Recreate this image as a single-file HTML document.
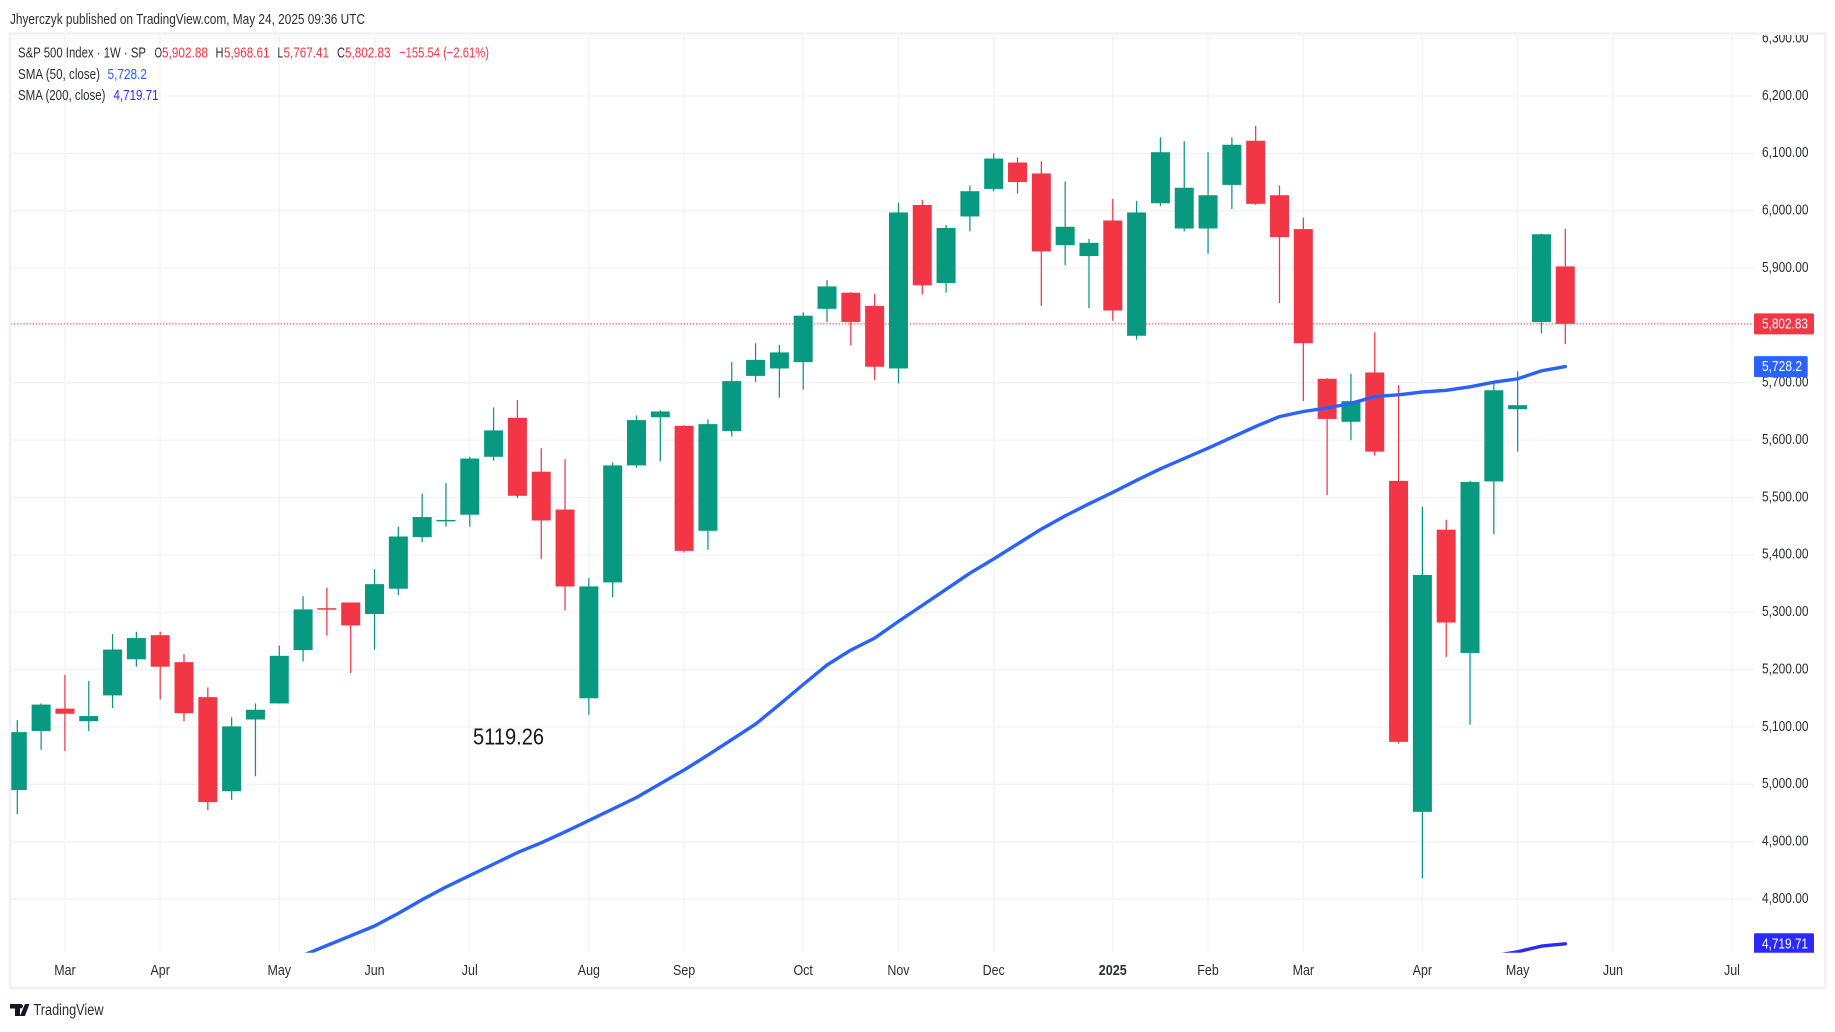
<!DOCTYPE html>
<html lang="en">
<head>
<meta charset="utf-8">
<title>S&amp;P 500 Index weekly chart</title>
<style>
html,body{margin:0;padding:0;background:#fff;width:1835px;height:1032px;overflow:hidden}
svg{display:block;font-family:"Liberation Sans",sans-serif}
</style>
</head>
<body>
<svg id="chart" xmlns="http://www.w3.org/2000/svg" width="1835" height="1032" viewBox="0 0 1835 1032">
  <defs>
    <clipPath id="pane-clip"><rect x="11" y="35" width="1742.5" height="917.7"/></clipPath>
    <clipPath id="axis-clip"><rect x="1754" y="35" width="70" height="917.7"/></clipPath>
  </defs>
  <rect x="0" y="0" width="1835" height="1032" fill="#ffffff"/>
  <text x="10" y="24" font-size="14.5" fill="#2a2e39" textLength="355" lengthAdjust="spacingAndGlyphs">Jhyerczyk published on TradingView.com, May 24, 2025 09:36 UTC</text>
  <g id="grid"></g>
  <g id="series" clip-path="url(#pane-clip)"></g>
  <g id="yaxis" clip-path="url(#axis-clip)"></g>
  <g id="xaxis"></g>
  <g id="tags" clip-path="url(#axis-clip)"></g>
  <rect x="10" y="33.5" width="1815.5" height="954.5" fill="none" stroke="#f1f2f5" stroke-width="2.6"/>

  <g font-size="14.5">
    <text x="18" y="57.5" fill="#2a2e39" textLength="128" lengthAdjust="spacingAndGlyphs">S&amp;P 500 Index · 1W · SP</text>
    <text x="154.5" y="57.5" fill="#2a2e39" textLength="7.5" lengthAdjust="spacingAndGlyphs">O</text>
    <text x="162" y="57.5" fill="#f23645" textLength="46" lengthAdjust="spacingAndGlyphs">5,902.88</text>
    <text x="215.5" y="57.5" fill="#2a2e39" textLength="8" lengthAdjust="spacingAndGlyphs">H</text>
    <text x="224" y="57.5" fill="#f23645" textLength="45.5" lengthAdjust="spacingAndGlyphs">5,968.61</text>
    <text x="277.5" y="57.5" fill="#2a2e39" textLength="5.5" lengthAdjust="spacingAndGlyphs">L</text>
    <text x="283.5" y="57.5" fill="#f23645" textLength="45.5" lengthAdjust="spacingAndGlyphs">5,767.41</text>
    <text x="337" y="57.5" fill="#2a2e39" textLength="8" lengthAdjust="spacingAndGlyphs">C</text>
    <text x="345" y="57.5" fill="#f23645" textLength="45.5" lengthAdjust="spacingAndGlyphs">5,802.83</text>
    <text x="399" y="57.5" fill="#f23645" textLength="90" lengthAdjust="spacingAndGlyphs">−155.54 (−2.61%)</text>
    <text x="18" y="79" fill="#2a2e39" textLength="82" lengthAdjust="spacingAndGlyphs">SMA (50, close)</text>
    <text x="107.5" y="79" fill="#2962ff" textLength="39.5" lengthAdjust="spacingAndGlyphs">5,728.2</text>
    <text x="18" y="100" fill="#2a2e39" textLength="87.5" lengthAdjust="spacingAndGlyphs">SMA (200, close)</text>
    <text x="113.5" y="100" fill="#2a2aff" textLength="45" lengthAdjust="spacingAndGlyphs">4,719.71</text>
  </g>

  <text x="473" y="744.5" font-size="23" fill="#131722" textLength="71" lengthAdjust="spacingAndGlyphs">5119.26</text>

  <g>
    <path fill="#131722" d="M10 1004h10v12h-5v-7.5h-5zM25 1004h4.5l-4.6 12h-5zM23 1006.2a2.2 2.2 0 1 1-4.4 0a2.2 2.2 0 0 1 4.4 0z"/>
    <text x="33.5" y="1015" font-size="15.5" fill="#2a2e39" textLength="70" lengthAdjust="spacingAndGlyphs">TradingView</text>
  </g>
</svg>
<script>
var opens  = [4990,5093,5132,5110,5155,5218,5260,5213,5152,4988,5113,5141,5234,5307,5317,5297,5341,5431,5459,5470,5571,5639,5545,5479,5150,5352,5556,5640,5625,5442,5616,5712,5725,5736,5829,5857,5834,5725,6010,5874,5990,6038,6084,6065,5940,5921,5983,5782,6013,5969,5969,6045,6122,6027,5968,5707,5632,5718,5529,4952,5444,5229,5528,5654,5806,5902.88];
var highs  = [5112,5141,5191,5180,5262,5266,5266,5227,5169,5117,5141,5242,5328,5343,5317,5375,5449,5507,5525,5571,5657,5670,5586,5567,5360,5561,5643,5652,5626,5636,5736,5769,5766,5823,5879,5858,5855,6014,6019,5975,6044,6100,6093,6086,6051,5951,6021,6017,6128,6121,6102,6128,6148,6044,5988,5708,5716,5788,5696,5484,5461,5529,5702,5720,5960,5968.61];
var lows   = [4948,5060,5058,5093,5133,5205,5148,5110,4955,4973,5014,5141,5214,5259,5194,5235,5330,5422,5449,5449,5564,5499,5393,5303,5121,5326,5552,5563,5404,5409,5606,5701,5674,5688,5806,5765,5705,5699,5854,5857,5964,6034,6030,5834,5905,5830,5808,5775,6008,5964,5925,6003,6010,5839,5668,5504,5600,5573,5071,4836,5222,5104,5436,5580,5786,5767.41];
var closes = [5091,5139,5123,5119,5235,5255,5205,5124,4969,5101,5130,5224,5305,5305,5277,5349,5432,5466,5461,5568,5617,5503,5460,5345,5345,5556,5635,5650,5407,5628,5703,5740,5753,5817,5868,5806,5728,5997,5870,5970,6034,6091,6050,5929,5972,5944,5826,5997,6102,6040,6027,6115,6012,5954,5769,5637,5668,5580,5074,5365,5282,5527,5687,5661,5959,5802.83];

var sma50StartBar = 12;
var sma50 = [4702,4719,4736,4753,4775,4799,4821,4841,4861,4881,4898,4917,4937,4957,4977,5001,5025,5051,5078,5105,5139,5174,5208,5234,5255,5284,5312,5340,5368,5393,5419,5445,5468,5489,5509,5530,5550,5568,5586,5605,5624,5641,5650,5656,5664,5676,5679,5684,5687,5693,5701,5707,5721,5728.2];

var sma200StartBar = 61;
var sma200 = [4694,4701,4708,4718,4722];

var priceTicks = [6300,6200,6100,6000,5900,5800,5700,5600,5500,5400,5300,5200,5100,5000,4900,4800];
var priceTickLabels = ["6,300.00","6,200.00","6,100.00","6,000.00","5,900.00","5,800.00","5,700.00","5,600.00","5,500.00","5,400.00","5,300.00","5,200.00","5,100.00","5,000.00","4,900.00","4,800.00"];
var timeTickBars = [2,6,11,15,19,24,28,33,37,41,46,50,54,59,63,67,72];
var timeTickLabels = ["Mar","Apr","May","Jun","Jul","Aug","Sep","Oct","Nov","Dec","2025","Feb","Mar","Apr","May","Jun","Jul"];

var lastPriceLabel = "5,802.83";
var sma50Label = "5,728.2";
var sma200Label = "4,719.71";

var NS = "http://www.w3.org/2000/svg";
var GREEN = "#089981", RED = "#f23645", BLUE = "#2962ff", INDIGO = "#2a2aff";
var PANE_L = 11, PANE_R = 1753.5, PANE_T = 35, PANE_B = 952.7;

function xOf(bar){ return 17.3 + 23.815 * bar; }
function yOf(price){ return 96 + (6200 - price) * 0.5736; }
function el(tag, parent){
  var n = document.createElementNS(NS, tag);
  parent.appendChild(n);
  return n;
}
function setAll(n, attrs){
  for (var k in attrs) n.setAttribute(k, attrs[k]);
}

var grid = document.getElementById("grid");
var series = document.getElementById("series");
var yaxis = document.getElementById("yaxis");
var xaxis = document.getElementById("xaxis");
var tags = document.getElementById("tags");

priceTicks.forEach(function(p, i){
  var y = yOf(p);
  var line = el("line", grid);
  
  
  setAll(line, {x1:PANE_L, x2:PANE_R, y1:y, y2:y, stroke:"#f2f3f6", "stroke-width":1.3});
  var t = el("text", yaxis);
  
  
  setAll(t, {x:1762, y:y+3.8, "font-size":14.5, fill:"#2a2e39", textLength:46.5, lengthAdjust:"spacingAndGlyphs"});
  t.textContent = priceTickLabels[i];
});

timeTickBars.forEach(function(b, i){
  var x = xOf(b);
  var line = el("line", grid);
  
  
  setAll(line, {x1:x, x2:x, y1:PANE_T, y2:PANE_B, stroke:"#f2f3f6", "stroke-width":1.3});
  var t = el("text", xaxis);
  
  
  var label = timeTickLabels[i];
  var isYear = label.length === 4;
  setAll(t, {x:x, y:975, "text-anchor":"middle", "font-size":14.5, fill:"#2a2e39", "font-weight":isYear ? "bold" : "normal"});
  t.textContent = label;
  if (isYear) {
    t.setAttribute("textLength", 28);
    t.setAttribute("lengthAdjust", "spacingAndGlyphs");
  } else {
    t.setAttribute("transform", "translate(" + x + " 0) scale(0.86 1) translate(" + (-x) + " 0)");
  }
});

var priceLine = el("line", series);


setAll(priceLine, {x1:PANE_L, x2:PANE_R, y1:yOf(closes[closes.length-1]), y2:yOf(closes[closes.length-1]), stroke:RED, "stroke-width":1.2, "stroke-dasharray":"1.3 1.8", opacity:0.9});

closes.forEach(function(c, i){
  var o = opens[i], x = xOf(i), up = c >= o;
  var color = up ? GREEN : RED;
  var top = yOf(Math.max(o, c)), bot = yOf(Math.min(o, c));
  var g = el("g", series);
  
  
  var wick = el("line", g);
  
  
  setAll(wick, {x1:x, x2:x, y1:yOf(highs[i]), y2:yOf(lows[i]), stroke:color, "stroke-width":1.25});
  var body = el("rect", g);
  
  
  setAll(body, {x:x-9.5, y:top, width:19, height:Math.max(bot-top, 1.5), fill:color});
});

function drawLine(values, startBar, color){
  var pts = values.map(function(v, i){ return xOf(startBar + i).toFixed(1) + "," + yOf(v).toFixed(1); }).join(" ");
  var pl = el("polyline", series);
  setAll(pl, {points:pts, fill:"none", stroke:color, "stroke-width":3.4, "stroke-linejoin":"round", "stroke-linecap":"round"});
  return pl;
}
var sma50Line = drawLine(sma50, sma50StartBar, BLUE);


var sma200Line = drawLine(sma200, sma200StartBar, INDIGO);



function drawTag(price, label, color, w, tw){
  var y = yOf(price);
  var g = el("g", tags);
  var r = el("rect", g);
  setAll(r, {x:1754, y:y-10.5, width:w, height:21, rx:1.5, fill:color});
  var t = el("text", g);
  setAll(t, {x:1762, y:y+4.6, "font-size":14.5, fill:"#ffffff", textLength:tw, lengthAdjust:"spacingAndGlyphs"});
  t.textContent = label;
  return g;
}
var lastTag = drawTag(closes[closes.length-1], lastPriceLabel, RED, 60, 46);


var sma50Tag = drawTag(sma50[sma50.length-1], sma50Label, BLUE, 53.7, 40);


var sma200Tag = drawTag(sma200[sma200.length-1], sma200Label, INDIGO, 60, 46);


</script>
</body>
</html>
